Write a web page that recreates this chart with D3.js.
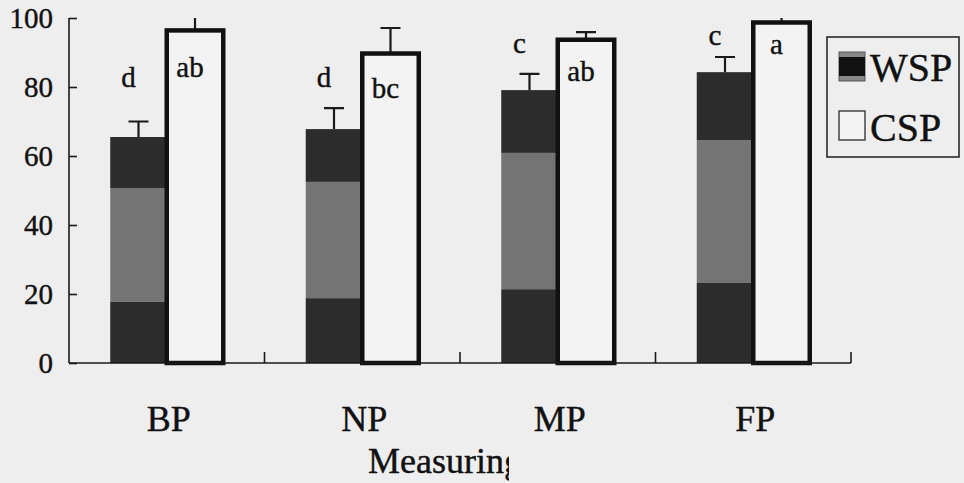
<!DOCTYPE html>
<html>
<head>
<meta charset="utf-8">
<script src="https://cdnjs.cloudflare.com/ajax/libs/d3/7.8.5/d3.min.js"></script>
<style>
    body { margin: 0; background: #eeeeee; }
    svg { display: block; }
</style>
</head>
<body>
<div id="chart"></div>
<script>

    // data
    let categories = ["BP", "NP", "MP", "FP"];
    let series = ["WSP", "CSP"];

    let wspLow = [17.7, 18.8, 21.4, 23.2];     // bottom dark part
    let wspMid = [50.7, 52.5, 60.9, 64.6];     // top of the grey part
    let wspMean = [65.5, 67.8, 79.1, 84.3];
    let wspErr = [4.5, 6.1, 4.7, 4.4];

    let cspMean = [96.4, 89.7, 93.7, 98.7];
    let cspErr = [6.0, 7.4, 2.2, 3.0];

    let wspLetters = ["d", "d", "c", "c"];
    let cspLetters = ["ab", "bc", "ab", "a"];
    let wspLetterAt = [80, 80, 89.9, 92.2];
    let cspLetterAt = [82.9, 76.8, 81.7, 89.6];

    let yTicks = [0, 20, 40, 60, 80, 100];

    let w = 964;
    let h = 483;
    let m = {top: 18, right: 113, bottom: 120, left: 69};
    let serif = "'Liberation Serif', 'Times New Roman', serif";

    let svg = d3.select("#chart")
        .append("svg")
        .attr("width", w)
        .attr("height", h);

    svg.append("rect")
        .attr("width", w)
        .attr("height", h)
        .attr("fill", "#eeeeee");

    let x = d3.scaleBand()
        .domain(categories)
        .range([m.left, w - m.right])
        .padding(0);

    let xInner = d3.scaleBand()
        .domain(series)
        .range([0, x.bandwidth()])
        .paddingInner(0)
        .paddingOuter(0.73);

    let y = d3.scaleLinear()
        .domain([0, 100])
        .range([h - m.bottom, m.top]);

    svg.append("clipPath")
        .attr("id", "plot")
        .append("rect")
        .attr("x", m.left)
        .attr("y", m.top)
        .attr("width", w - m.left - m.right)
        .attr("height", h - m.top - m.bottom);

    let rows = categories.map((c, i) => ({
        cat: c,
        low: wspLow[i], mid: wspMid[i], wsp: wspMean[i], wspErr: wspErr[i],
        csp: cspMean[i], cspErr: cspErr[i],
        wl: wspLetters[i], cl: cspLetters[i],
        wlAt: wspLetterAt[i], clAt: cspLetterAt[i]
    }));

    // all labels use the same serif face, a bit heavier like the scan
    let label = (sel, size) => sel
        .style("font-family", serif)
        .attr("font-size", size)
        .attr("fill", "#111")
        .attr("stroke", "#111")
        .attr("stroke-width", 0.4);

    let g = svg.append("g");

    // WSP stacked parts
    let parts = [];
    rows.forEach((d) => {
        parts.push({cat: d.cat, y0: 0, y1: d.low, fill: "#2c2c2c"});
        parts.push({cat: d.cat, y0: d.low, y1: d.mid, fill: "#747474"});
        parts.push({cat: d.cat, y0: d.mid, y1: d.wsp, fill: "#2c2c2c"});
    });

    g.selectAll("rect.wsp")
        .data(parts)
        .enter()
        .append("rect")
        .attr("class", "wsp")
        .attr("x", (d) => x(d.cat) + xInner("WSP"))
        .attr("width", xInner.bandwidth())
        .attr("y", (d) => y(d.y1))
        .attr("height", (d) => y(d.y0) - y(d.y1))
        .attr("fill", (d) => d.fill);

    // error bars, upper side only
    let errs = [];
    rows.forEach((d) => {
        errs.push({cat: d.cat, s: "WSP", v: d.wsp, e: d.wspErr});
        errs.push({cat: d.cat, s: "CSP", v: d.csp, e: d.cspErr});
    });

    let eg = g.append("g").attr("clip-path", "url(#plot)");

    eg.selectAll("path.err")
        .data(errs)
        .enter()
        .append("path")
        .attr("class", "err")
        .attr("d", (d) => {
            let cx = x(d.cat) + xInner(d.s) + xInner.bandwidth() / 2;
            let top = y(d.v + d.e);
            return "M" + cx + "," + y(d.v) + "V" + top + "M" + (cx - 10) + "," + top + "H" + (cx + 10);
        })
        .attr("fill", "none")
        .attr("stroke", "#1a1a1a")
        .attr("stroke-width", 2.2);

    // CSP open bars
    g.selectAll("rect.csp")
        .data(rows)
        .enter()
        .append("rect")
        .attr("class", "csp")
        .attr("x", (d) => x(d.cat) + xInner("CSP"))
        .attr("width", xInner.bandwidth())
        .attr("y", (d) => y(d.csp))
        .attr("height", (d) => y(0) - y(d.csp))
        .attr("fill", "#f3f3f3")
        .attr("stroke", "#111111")
        .attr("stroke-width", 4.5);

    // significance letters
    g.selectAll("text.wl")
        .data(rows)
        .enter()
        .append("text")
        .attr("class", "wl")
        .attr("x", (d) => x(d.cat) + xInner("WSP") + xInner.bandwidth() / 2 - 10)
        .attr("y", (d) => y(d.wlAt))
        .attr("text-anchor", "middle")
        .call(label, 29)
        .text((d) => d.wl);

    g.selectAll("text.cl")
        .data(rows)
        .enter()
        .append("text")
        .attr("class", "cl")
        .attr("x", (d) => x(d.cat) + xInner("CSP") + xInner.bandwidth() / 2 - 5)
        .attr("y", (d) => y(d.clAt))
        .attr("text-anchor", "middle")
        .call(label, 29)
        .text((d) => d.cl);

    // y axis, ticks pointing inward
    let yAxis = svg.append("g")
        .attr("transform", "translate(" + m.left + ",0)")
        .call(d3.axisRight(y).tickValues(yTicks).tickSize(8).tickFormat(""));
    yAxis.select(".domain").attr("d", "M0," + y(100) + "V" + y(0));
    yAxis.selectAll("line, path").attr("stroke", "#1a1a1a").attr("stroke-width", 1.6);

    svg.append("g")
        .selectAll("text")
        .data(yTicks)
        .enter()
        .append("text")
        .attr("x", m.left - 16)
        .attr("y", (d) => y(d))
        .attr("dy", "0.35em")
        .attr("text-anchor", "end")
        .call(label, 29)
        .text((d) => d);

    // x axis with short ticks between groups
    let bounds = categories.map((c) => x(c) + x.bandwidth());
    let xAxis = svg.append("g");
    xAxis.append("path")
        .attr("d", "M" + m.left + "," + y(0) + "H" + (w - m.right))
        .attr("stroke", "#1a1a1a")
        .attr("stroke-width", 1.6);
    xAxis.selectAll("line")
        .data(bounds)
        .enter()
        .append("line")
        .attr("x1", (d) => d)
        .attr("x2", (d) => d)
        .attr("y1", y(0))
        .attr("y2", y(0) - 11)
        .attr("stroke", "#1a1a1a")
        .attr("stroke-width", 1.6);

    svg.append("g")
        .selectAll("text")
        .data(categories)
        .enter()
        .append("text")
        .attr("x", (d) => x(d) + x.bandwidth() / 2 + 2)
        .attr("y", 431)
        .attr("text-anchor", "middle")
        .call(label, 36)
        .text((d) => d);

    // axis title, cut off in the original
    svg.append("clipPath")
        .attr("id", "titleclip")
        .append("rect")
        .attr("x", 0).attr("y", 0)
        .attr("width", 509).attr("height", h);

    svg.append("text")
        .attr("x", 368)
        .attr("y", 473)
        .call(label, 36)
        .attr("clip-path", "url(#titleclip)")
        .text("Measuring");

    // legend
    let lg = svg.append("g");
    lg.append("rect")
        .attr("x", 827).attr("y", 37)
        .attr("width", 132).attr("height", 120)
        .attr("fill", "none")
        .attr("stroke", "#2a2a2a")
        .attr("stroke-width", 1.6);

    lg.append("rect")
        .attr("x", 839).attr("y", 52)
        .attr("width", 26).attr("height", 29)
        .attr("fill", "#878787")
        .attr("stroke", "#555")
        .attr("stroke-width", 1);
    lg.append("rect")
        .attr("x", 839).attr("y", 57)
        .attr("width", 26).attr("height", 19)
        .attr("fill", "#111");

    lg.append("rect")
        .attr("x", 839).attr("y", 111)
        .attr("width", 26).attr("height", 29)
        .attr("fill", "#f3f3f3")
        .attr("stroke", "#444")
        .attr("stroke-width", 1.5);

    lg.selectAll("text")
        .data(series)
        .enter()
        .append("text")
        .attr("x", 870)
        .attr("y", (d, i) => 81 + i * 60)
        .call(label, 40)
        .text((d) => d);

</script>
</body>
</html>
